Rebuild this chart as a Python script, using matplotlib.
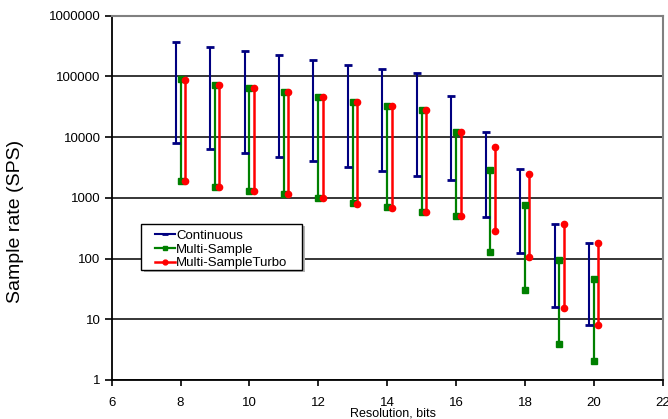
# Sample rate vs resolution chart
import matplotlib
matplotlib.use('Agg')
from matplotlib import pyplot as plt
from matplotlib.lines import Line2D
from matplotlib.patches import Rectangle
import matplotlib.ticker as ticker

plt.rcParams['font.family'] = ['Liberation Sans', 'DejaVu Sans']

# data
bits = [8, 9, 10, 11, 12, 13, 14, 15, 16, 17, 18, 19, 20]
cont_hi = [372000, 300000, 262000, 225000, 188000, 156000, 132000, 114000, 48000, 12100, 3000, 378, 183]
cont_lo = [8060, 6330, 5450, 4680, 3970, 3240, 2750, 2330, 1980, 492, 122, 16, 8.1]
ms_hi = [91500, 72800, 63400, 55800, 45700, 37800, 32000, 28200, 12200, 2890, 757, 95, 46.8]
ms_lo = [1860, 1535, 1300, 1164, 988, 817, 702, 588, 505, 126, 30.4, 3.97, 2.03]
mst_hi = [87000, 72800, 63400, 55800, 45700, 38600, 32700, 28200, 12200, 7010, 2490, 368, 183]
mst_lo = [1860, 1500, 1300, 1164, 988, 796, 684, 575, 494, 286, 106, 15.4, 8.2]

xticks = [6, 8, 10, 12, 14, 16, 18, 20, 22]
yticks = [1, 10, 100, 1000, 10000, 100000, 1000000]
ytick_labels = ['1', '10', '100', '1000', '10000', '100000', '1000000']

BLUE = '#000080'
GREEN = '#008000'
RED = '#ff0000'


def main():
    fig = plt.figure(figsize=(6.68, 4.19), dpi=100)
    ax = fig.add_axes([0.1672, 0.0931, 0.8248, 0.8694])

    # horizontal grid at each decade
    for v in yticks:
        ax.axhline(v, color='black', lw=1.1, zorder=1)

    series = [
        (cont_lo, cont_hi, -0.14, BLUE, '_', 6, 1.5, 'Continuous'),
        (ms_lo, ms_hi, 0.0, GREEN, 's', 4.5, 1.6, 'Multi-Sample'),
        (mst_lo, mst_hi, 0.13, RED, 'o', 4.5, 1.8, 'Multi-SampleTurbo'),
    ]
    handles = []
    for lo, hi, dx, col, mk, ms, lw, name in series:
        xs = [b + dx for b in bits]
        mew = 2 if mk == '_' else 1
        ax.vlines(xs, lo, hi, colors=col, lw=lw, zorder=3)
        ax.plot(xs, lo, ls='none', marker=mk, ms=ms, color=col, mew=mew, zorder=4)
        ax.plot(xs, hi, ls='none', marker=mk, ms=ms, color=col, mew=mew, zorder=4)
        handles.append(Line2D([], [], color=col, lw=lw, marker=mk, ms=ms - 1, mew=mew))

    ax.set_yscale('log')
    ax.set_ylim(1, 1000000)
    ax.set_xlim(6, 22)
    ax.yaxis.set_major_locator(ticker.FixedLocator(yticks))
    ax.yaxis.set_minor_locator(ticker.NullLocator())
    ax.set_yticklabels(ytick_labels)
    ax.set_xticks(xticks)
    ax.tick_params(axis='y', direction='out', length=5, width=1.2, pad=3, labelsize=9.5)
    ax.tick_params(axis='x', direction='out', length=4, width=1.2, pad=8.5, labelsize=9.5)

    for s in ['left', 'bottom']:
        ax.spines[s].set_color('black')
        ax.spines[s].set_linewidth(1.3)
    for s in ['top', 'right']:
        ax.spines[s].set_color('#808080')
        ax.spines[s].set_linewidth(1.5)

    ax.set_ylabel('Sample rate (SPS)', fontsize=14)
    ax.yaxis.set_label_coords(-0.159, 0.434)
    ax.set_xlabel('Resolution, bits', fontsize=9)
    ax.xaxis.set_label_coords(0.51, -0.075)

    # legend box drawn by hand (wider side padding than matplotlib gives)
    shadow = Rectangle((0.058, 0.297), 0.292, 0.1255, transform=ax.transAxes,
                       facecolor='0.7', edgecolor='none', zorder=9)
    box = Rectangle((0.054, 0.3025), 0.292, 0.1255, transform=ax.transAxes,
                    facecolor='white', edgecolor='black', lw=1.0, zorder=9.5)
    ax.add_patch(shadow)
    ax.add_patch(box)
    leg = ax.legend(handles=handles, labels=[s[-1] for s in series], loc='upper left',
                    bbox_to_anchor=(0.0786, 0.413), borderaxespad=0, borderpad=0,
                    fontsize=9.5, frameon=False, handlelength=1.5,
                    handletextpad=0.1, labelspacing=0.12, numpoints=1)
    leg.set_zorder(10)

    plt.savefig('out.png', dpi=100)


if __name__ == '__main__':
    main()
